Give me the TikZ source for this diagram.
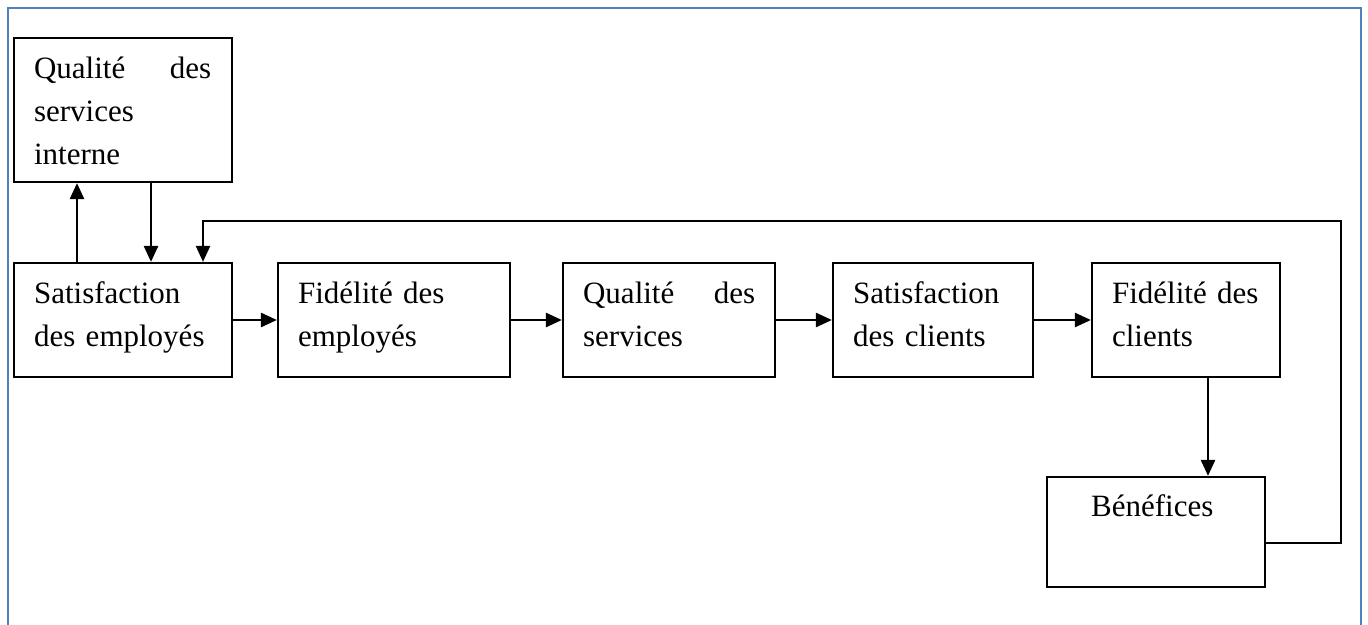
\documentclass[tikz,border=0pt]{standalone}
\usepackage{fontspec}
\setmainfont{Liberation Serif}
\usetikzlibrary{arrows.meta}
\definecolor{frameblue}{RGB}{79,129,189}
\begin{document}
\begin{tikzpicture}[x=1pt,y=-1pt,
  box/.style={draw, line width=2.2pt, inner sep=0pt, minimum height=114pt},
  txt/.style={anchor=base west, inner sep=0pt, align=left, text width=200pt,
    font=\fontsize{31pt}{43pt}\selectfont},
  flow/.style={line width=2.6pt, -{Triangle[length=16pt,width=14pt]}},
  back/.style={line width=2.2pt, -{Triangle[length=16pt,width=14pt]}}]
\useasboundingbox (0,0) rectangle (1368,624);
\fill[white] (0,0) rectangle (1368,624);
% outer frame (open at the bottom edge)
\draw[frameblue, line width=2pt] (8,640) -- (8,8) -- (1361,8) -- (1361,640);

% boxes
\node[box, minimum width=218pt, minimum height=144pt] (qsi) at (123,110) {};
\node[box, minimum width=218pt] (se)  at (123,320)  {};
\node[box, minimum width=232pt] (fe)  at (394,320)  {};
\node[box, minimum width=212pt] (qs)  at (669,320)  {};
\node[box, minimum width=200pt] (sc)  at (933,320)  {};
\node[box, minimum width=188pt] (fc)  at (1186,320) {};
\node[box, minimum width=218pt, minimum height=110pt] (ben) at (1156,532) {};

% texts
\node[txt, text width=177pt] (tqsi) at ([xshift=21pt,yshift=-42pt]qsi.north west)
  {Qualit\'e\hfill des\\services\\interne};
\node[txt] (tse) at ([xshift=21pt,yshift=-42pt]se.north west) {Satisfaction\\des employ\'es};
\node[txt] (tfe) at ([xshift=21pt,yshift=-42pt]fe.north west) {Fid\'elit\'e des\\employ\'es};
\node[txt, text width=172pt] (tqs) at ([xshift=21pt,yshift=-42pt]qs.north west)
  {Qualit\'e\hfill des\\services};
\node[txt] (tsc) at ([xshift=21pt,yshift=-42pt]sc.north west) {Satisfaction\\des clients};
\node[txt] (tfc) at ([xshift=21pt,yshift=-42pt]fc.north west) {Fid\'elit\'e des\\clients};
\node[txt] (tben) at ([xshift=45pt,yshift=-41pt]ben.north west) {B\'en\'efices};

% connectors
\draw[flow] ([xshift=-46pt]se.north) -- ([xshift=-46pt]se.north |- qsi.south);
\draw[flow] ([xshift=28pt]qsi.south) -- ([xshift=28pt]qsi.south |- se.north);
\draw[flow] (se) -- (fe);
\draw[flow] (fe) -- (qs);
\draw[flow] (qs) -- (sc);
\draw[flow] (sc) -- (fc);
\draw[flow] ([xshift=22pt]fc.south) -- ([xshift=22pt]fc.south |- ben.north);
\coordinate (fbcorner) at (1341,221);
\draw[back] ([yshift=-11pt]ben.east) -| (fbcorner) -| ([xshift=80pt]se.north);
\end{tikzpicture}
\end{document}
